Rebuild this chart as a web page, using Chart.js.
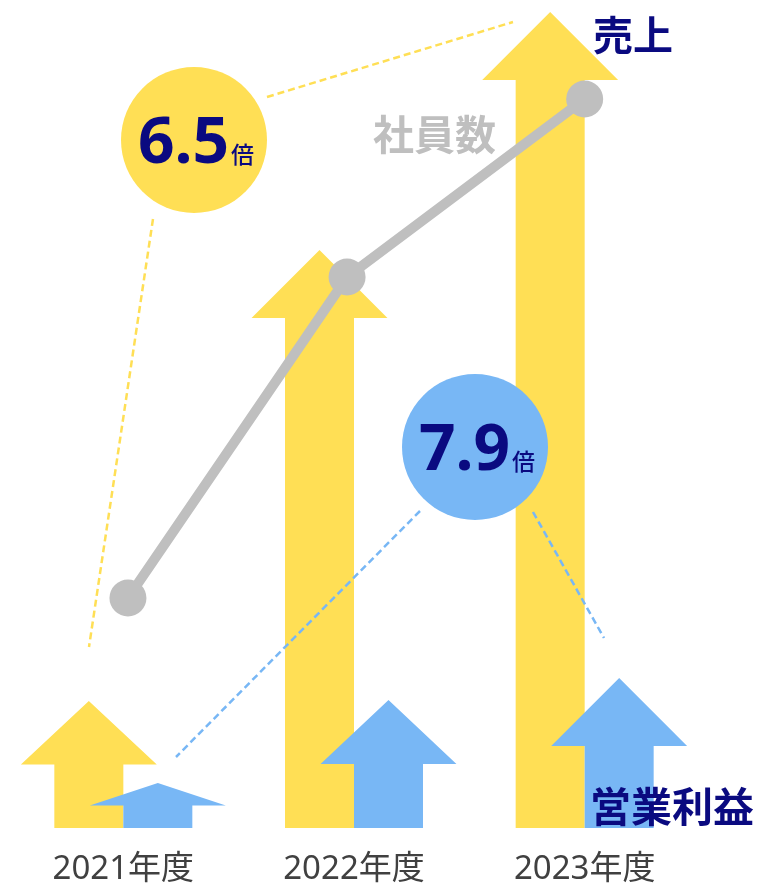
<!DOCTYPE html>
<html>
<head>
<meta charset="utf-8">
<script src="https://cdn.jsdelivr.net/npm/chart.js@4.4.1/dist/chart.umd.min.js"></script>
<style>
  html, body { margin: 0; padding: 0; background: #fff; }
  #wrap { width: 758px; height: 885px; }
</style>
</head>
<body>
<div id="wrap"><canvas id="chart" width="758" height="885"></canvas></div>
<script>
// ---- data ----
const years = ["2021年度", "2022年度", "2023年度"];
const sales = [127, 578, 816];        // 売上 (arrow height)
const profit = [45, 128, 150];        // 営業利益
const staffX = [0.02, 0.97, 2.0];     // 社員数 point positions on the year axis
const staff = [230, 551, 729];        // 社員数
const salesRatio = "6.5";
const profitRatio = "7.9";

const YELLOW = "#FFDF55";
const BLUE = "#78B7F5";
const GRAY = "#BFBFBF";
const NAVY = "#0A0A80";
const JP = "'Noto Sans CJK JP', 'Noto Sans', sans-serif";

// draw an up-arrow in place of a bar
function drawArrow(ctx, x, top, base, w) {
    const h = base - top;
    const headH = Math.min(68, h * 0.5);
    const headW = w * 1.97;
    ctx.beginPath();
    ctx.moveTo(x - w / 2, base);
    ctx.lineTo(x - w / 2, top + headH);
    ctx.lineTo(x - headW / 2, top + headH);
    ctx.lineTo(x, top);
    ctx.lineTo(x + headW / 2, top + headH);
    ctx.lineTo(x + w / 2, top + headH);
    ctx.lineTo(x + w / 2, base);
    ctx.closePath();
    ctx.fill();
}

// bars are not grouped, so each arrow is put half a bar left / right of the year
const arrowPlugin = {
    id: "arrows",
    beforeDatasetsDraw(chart) {
        const ctx = chart.ctx;
        ctx.save();
        [0, 1].forEach(i => {
            const ds = chart.data.datasets[i];
            ctx.fillStyle = ds.arrowColor;
            chart.getDatasetMeta(i).data.forEach(bar => {
                const x = bar.x + ds.arrowSide * bar.width / 2;
                drawArrow(ctx, x, bar.y, bar.base, bar.width);
            });
        });
        ctx.restore();
    }
};

function dashed(ctx, color, x1, y1, x2, y2) {
    ctx.strokeStyle = color;
    ctx.lineWidth = 2.5;
    ctx.setLineDash([7, 4]);
    ctx.beginPath();
    ctx.moveTo(x1, y1);
    ctx.lineTo(x2, y2);
    ctx.stroke();
    ctx.setLineDash([]);
}

function ratioBubble(ctx, cx, cy, color, value) {
    ctx.fillStyle = color;
    ctx.beginPath();
    ctx.arc(cx, cy, 73, 0, Math.PI * 2);
    ctx.fill();

    ctx.fillStyle = NAVY;
    ctx.textBaseline = "alphabetic";
    ctx.textAlign = "left";
    const bigFont = "bold 64px 'Noto Sans', sans-serif";
    const smallFont = "500 23px " + JP;
    ctx.font = bigFont;
    const w1 = ctx.measureText(value).width;
    ctx.font = smallFont;
    const w2 = ctx.measureText("倍").width;
    const x0 = cx + 2 - (w1 + w2 + 2) / 2;
    ctx.font = bigFont;
    ctx.fillText(value, x0, cy + 23);
    ctx.font = smallFont;
    ctx.fillText("倍", x0 + w1 + 2, cy + 23);
}

const notePlugin = {
    id: "notes",
    afterDatasetsDraw(chart) {
        const ctx = chart.ctx;
        ctx.save();
        // 売上 growth
        dashed(ctx, YELLOW, 153, 219, 89, 647);
        dashed(ctx, YELLOW, 267, 97, 513, 22);
        ratioBubble(ctx, 194, 140, YELLOW, salesRatio);
        // 営業利益 growth
        dashed(ctx, BLUE, 420, 511, 176, 757);
        dashed(ctx, BLUE, 533, 512, 604, 638);
        ratioBubble(ctx, 475, 447, BLUE, profitRatio);

        ctx.textBaseline = "middle";
        ctx.textAlign = "left";
        ctx.font = "bold 40px " + JP;
        ctx.fillStyle = NAVY;
        ctx.fillText("売上", 593, 35);
        ctx.font = "bold 41px " + JP;
        ctx.fillText("営業利益", 590, 806);
        ctx.fillStyle = GRAY;
        ctx.fillText("社員数", 373, 134);

        // year labels under each group
        const xs = chart.scales.x;
        ctx.fillStyle = "#404040";
        ctx.textAlign = "center";
        ctx.font = "33px 'Noto Sans', 'Noto Sans CJK JP', sans-serif";
        years.forEach((y, i) => {
            ctx.fillText(y, xs.getPixelForValue(i), 870);
        });
        ctx.restore();
    }
};

new Chart(document.getElementById("chart"), {
    type: "bar",
    data: {
        labels: years,
        datasets: [
            {
                label: "売上",
                data: sales,
                arrowColor: YELLOW,
                arrowSide: -1,
                backgroundColor: "rgba(0,0,0,0)",
                barThickness: 69,
                grouped: false,
                order: 1
            },
            {
                label: "営業利益",
                data: profit,
                arrowColor: BLUE,
                arrowSide: 1,
                backgroundColor: "rgba(0,0,0,0)",
                barThickness: 69,
                grouped: false,
                order: 1
            },
            {
                type: "line",
                label: "社員数",
                xAxisID: "x2",
                data: staff.map((v, i) => ({ x: staffX[i], y: v })),
                borderColor: GRAY,
                borderWidth: 10,
                pointRadius: 18.5,
                pointBackgroundColor: GRAY,
                pointBorderWidth: 0,
                tension: 0,
                order: 0
            }
        ]
    },
    options: {
        responsive: false,
        animation: false,
        devicePixelRatio: 1,
        layout: { autoPadding: false, padding: { left: 8, right: 58, top: 0, bottom: 57 } },
        plugins: {
            legend: { display: false },
            tooltip: { enabled: false }
        },
        scales: {
            x: { type: "category", offset: true, display: false },
            x2: { type: "linear", min: -0.5, max: 2.5, offset: false, display: false },
            y: { min: 0, max: 828, display: false }
        }
    },
    plugins: [arrowPlugin, notePlugin]
});
</script>
</body>
</html>
